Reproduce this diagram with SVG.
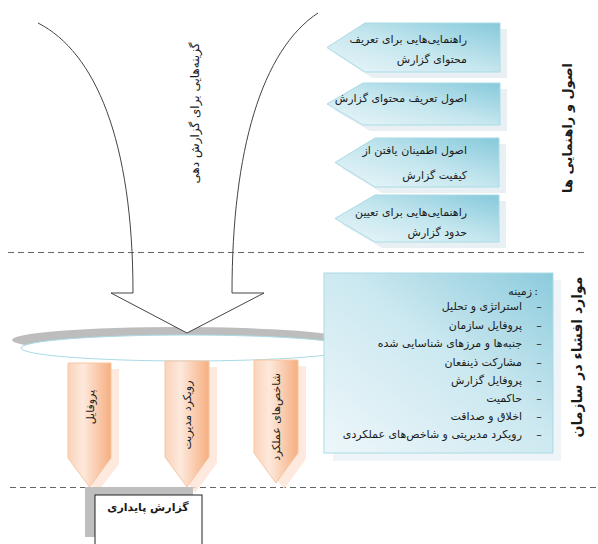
<svg xmlns="http://www.w3.org/2000/svg" width="598" height="544" viewBox="0 0 598 544">
<defs>
<linearGradient id="gBlue" x1="0" y1="1" x2="1" y2="0">
<stop offset="0" stop-color="#eaf6f9"/>
<stop offset="0.5" stop-color="#c4e6ee"/>
<stop offset="1" stop-color="#86c9db"/>
</linearGradient>
<linearGradient id="gBox" x1="0" y1="1" x2="1" y2="0">
<stop offset="0" stop-color="#eef7fa"/>
<stop offset="0.55" stop-color="#cbe8f0"/>
<stop offset="1" stop-color="#8ccbdc"/>
</linearGradient>
<linearGradient id="gOrange" x1="0" y1="0" x2="1" y2="0">
<stop offset="0" stop-color="#fad3ba"/>
<stop offset="0.35" stop-color="#fde9dc"/>
<stop offset="1" stop-color="#f6ae80"/>
</linearGradient>
<style>
.t{font-family:"DejaVu Sans",sans-serif;fill:#1a1a1a}
.blue{fill:url(#gBlue);stroke:#a9dbe6;stroke-width:1}
.bshadow{fill:#e9f0f4}
.orange{fill:url(#gOrange);stroke:#f8c6a2;stroke-width:1}
.oshadow{fill:#fce4d4;opacity:0.8}
.dash{stroke:#666;stroke-width:1.2;stroke-dasharray:6 4;fill:none}
.curve{fill:none;stroke:#444;stroke-width:1}
</style>
</defs>
<rect width="598" height="544" fill="#fff"/>

<g id="separators">
<line class="dash" x1="8" y1="252.5" x2="586" y2="252.5"/>
<line class="dash" x1="10" y1="487.5" x2="598" y2="487.5"/>
</g>

<g id="guidelines-arrow">
<ellipse cx="179" cy="340" rx="167" ry="13" fill="#bdbdbd"/>
<ellipse cx="187" cy="348" rx="166" ry="13" fill="#fff" stroke="#a9dbe6" stroke-width="1"/>
<path class="curve" d="M38,23 C95,52 133,140 133,293"/>
<path class="curve" d="M318,13 C262,50 232,150 232,293"/>
<path d="M133,293 L111,293 L187,333 L264,293 L232,293" fill="#fff" stroke="#444" stroke-width="1"/>
<text class="t" font-size="12" transform="translate(195,113) rotate(-90)" text-anchor="middle" dominant-baseline="central">گزینه‌هایی برای گزارش دهی</text>
</g>

<g id="node-1">
<polygon class="bshadow" points="372,29 507,29 507,78 372,78 334,53"/>
<polygon class="blue" points="365,23 500,23 500,72 365,72 327,47.5"/>
<text class="t" font-size="11" x="467" y="43" text-anchor="end">راهنمایی‌هایی برای تعریف</text>
<text class="t" font-size="11" x="467" y="63" text-anchor="end">محتوای گزارش</text>
</g>
<g id="node-2">
<polygon class="bshadow" points="370,89 507,89 507,131 370,131 334,110"/>
<polygon class="blue" points="363,83 500,83 500,125 363,125 327,104"/>
<text class="t" font-size="11" x="467" y="102" text-anchor="end">اصول تعریف محتوای گزارش</text>
</g>
<g id="node-3">
<polygon class="bshadow" points="382,144 506,144 506,193 382,193 342,168.5"/>
<polygon class="blue" points="375,138 499,138 499,187 375,187 335,162.5"/>
<text class="t" font-size="11" x="467" y="154" text-anchor="end">اصول اطمینان یافتن از</text>
<text class="t" font-size="11" x="467" y="179" text-anchor="end">کیفیت گزارش</text>
</g>
<g id="node-4">
<polygon class="bshadow" points="382,201 506,201 506,248 382,248 342,224.5"/>
<polygon class="blue" points="375,195 499,195 499,242 375,242 335,218.5"/>
<text class="t" font-size="11" x="467" y="216" text-anchor="end">راهنمایی‌هایی برای تعیین</text>
<text class="t" font-size="11" x="467" y="236" text-anchor="end">حدود گزارش</text>
</g>
<g id="label-principles">
<text class="t" font-size="13" font-weight="bold" transform="translate(567,128) rotate(-90)" text-anchor="middle" dominant-baseline="central">اصول و راهنمایی ها</text>
</g>

<g id="node-disclosures">
<rect x="333" y="280" width="228" height="181" fill="#eef4f7"/>
<rect x="324" y="273" width="229" height="180" fill="url(#gBox)" stroke="#a9dbe6" stroke-width="1"/>
<text class="t" font-size="11" x="538" y="295" text-anchor="end">:</text>
<text class="t" font-size="11" x="532" y="295" text-anchor="end">زمینه</text>
<g class="t" font-size="11" text-anchor="middle">
<text x="539" y="310">–</text>
<text x="539" y="329">–</text>
<text x="539" y="347">–</text>
<text x="539" y="366">–</text>
<text x="539" y="384">–</text>
<text x="539" y="402">–</text>
<text x="539" y="420">–</text>
<text x="539" y="438">–</text>
</g>
<g class="t" font-size="11" text-anchor="end">
<text x="522" y="310">استراتژی و تحلیل</text>
<text x="522" y="329">پروفایل سازمان</text>
<text x="522" y="347">جنبه‌ها و مرزهای شناسایی شده</text>
<text x="522" y="366">مشارکت ذینفعان</text>
<text x="522" y="384">پروفایل گزارش</text>
<text x="522" y="402">حاکمیت</text>
<text x="522" y="420">اخلاق و صداقت</text>
<text x="522" y="438">رویکرد مدیریتی و شاخص‌های عملکردی</text>
</g>
</g>
<g id="label-disclosures">
<text class="t" font-size="14" font-weight="bold" transform="translate(577,357) rotate(-90)" text-anchor="middle" dominant-baseline="central">موارد افشاء در سازمان</text>
</g>

<g id="node-profile">
<polygon class="oshadow" points="76,369 119,369 119,464 97,493 76,464"/>
<polygon class="orange" points="68,363 111,363 111,458 89.5,487 68,458"/>
<text class="t" font-size="11" transform="translate(90,407) rotate(-90)" text-anchor="middle" dominant-baseline="central">پروفایل</text>
</g>
<g id="node-management">
<polygon class="oshadow" points="173,367 217,367 217,463 195,493 173,463"/>
<polygon class="orange" points="165,361 209,361 209,457 187,487 165,457"/>
<text class="t" font-size="11" transform="translate(187,415) rotate(-90)" text-anchor="middle" dominant-baseline="central">رویکرد مدیریت</text>
</g>
<g id="node-indicators">
<polygon class="oshadow" points="262,366 306,366 306,459 284,489 262,459"/>
<polygon class="orange" points="254,360 298,360 298,453 276,483 254,453"/>
<text class="t" font-size="11" transform="translate(276,417) rotate(-90)" text-anchor="middle" dominant-baseline="central">شاخص‌های عملکرد</text>
</g>

<g id="node-report">
<rect x="85" y="487" width="108" height="50" fill="#bfbfbf"/>
<rect x="95" y="495" width="107" height="60" fill="#fff" stroke="#222" stroke-width="1"/>
<text class="t" font-size="11" font-weight="bold" x="148" y="511" text-anchor="middle">گزارش پایداری</text>
</g>
</svg>
